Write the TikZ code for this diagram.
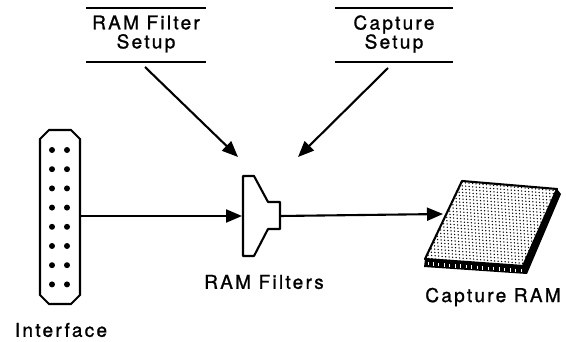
\documentclass[tikz,border=0pt]{standalone}
\usepackage{fontspec}
\setmainfont[LetterSpace=12,FakeBold=1.2]{TeX Gyre Heros}
\usetikzlibrary{arrows.meta,calc}
\begin{document}
\begin{tikzpicture}[x=1pt,y=-1pt,
  ln/.style={line width=2.1pt},
  arr/.style={ln,-{Triangle[length=16pt,width=13pt]}},
  lbl/.style={font=\fontsize{19}{20}\selectfont, inner sep=0pt, align=center}]
\useasboundingbox (0,0) rectangle (566,342);
% setup blocks
\draw[ln] (86,8) -- (206,8);
\draw[ln] (86,62) -- (206,62);
\node[lbl] (rfs) at (146,34) {RAM Filter\\[-1pt]Setup};
\draw[ln] (335,8) -- (453,8);
\draw[ln] (335,62) -- (453,62);
\node[lbl] (cs) at (394,34) {Capture\\[-1pt]Setup};
\coordinate (rfsout) at (145,67);
\coordinate (csout) at (388,68);
% filter shape
\draw[ln, line join=round] (243,176) -- (254,176) -- (268,202) -- (280,202) -- (280,229) -- (268,229) -- (254,256) -- (243,256) -- cycle;
\coordinate (fin) at (242,216);
\coordinate (fout) at (280,216);
\coordinate (ftopL) at (238,157);
\coordinate (ftopR) at (298,157);
\node[lbl] (flbl) at (264,282) {RAM Filters};
% interface
\draw[ln] (49,130) -- (71,130) -- (80,139) -- (80,295) -- (71,304) -- (49,304) -- (40,295) -- (40,139) -- cycle;
\foreach \y in {150,169.2,188.4,207.6,226.8,246,265.2,284.4}{
  \fill (52,\y) circle (3);
  \fill (67,\y) circle (3);
}
\coordinate (iout) at (80,216);
\node[lbl] (ilbl) at (61,330) {Interface};
% chip
\fill (425,259) -- (523,266) -- (557,189) -- (561,194) -- (527,274) -- (424,267) -- cycle;
\foreach \i in {0,...,17}{
  \draw[white, line width=0.9pt] ($(428,262)!\i/17!(521,269)$) -- ++(0,3.5);
}
\begin{scope}
\clip (462,181) -- (557,189) -- (523,266) -- (425,259) -- cycle;
\foreach \i in {0,...,40}{
  \foreach \j in {0,...,28}{
    \fill (420+\i*3.5+\j*0.2, 179+\j*3.3+\i*0.3) circle (0.75);
  }
}
\end{scope}
\draw[ln, line join=round] (462,181) -- (557,189) -- (523,266) -- (425,259) -- cycle;
\coordinate (chipin) at (443,214);
\node[lbl] (clbl) at (493,297) {Capture RAM};
% connectors
\draw[arr] (rfsout) -- (ftopL);
\draw[arr] (csout) -- (ftopR);
\draw[arr] (iout) -- (fin);
\draw[arr] (fout) -- (chipin);
\end{tikzpicture}
\end{document}
